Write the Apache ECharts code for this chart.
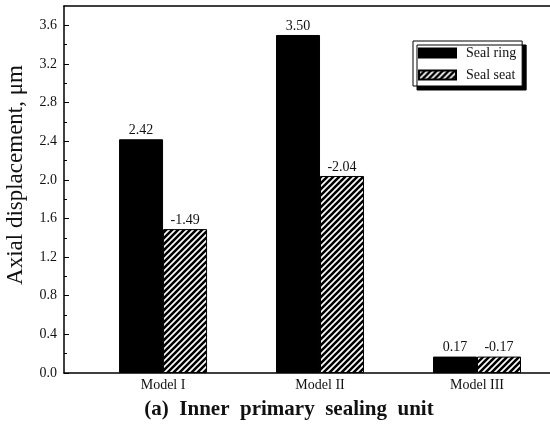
<!DOCTYPE html>
<html>
<head>
<meta charset="utf-8">
<script src="https://cdn.jsdelivr.net/npm/echarts@6/dist/echarts.min.js"></script>
<style>html,body{margin:0;padding:0;background:#fff}#c{width:550px;height:439px}</style>
</head>
<body>
<div id="c"></div>
<script>
var categories = ['Model I', 'Model II', 'Model III'];
var categoryPos = [1, 2, 3];
var ringValues = [2.42, 3.50, 0.17];
var seatValues = [-1.49, -2.04, -0.17];
var yTicks = [0, 0.4, 0.8, 1.2, 1.6, 2.0, 2.4, 2.8, 3.2, 3.6];
var seriesNames = ['Seal ring', 'Seal seat'];

var pc = document.createElement('canvas');
pc.width = 6; pc.height = 6;
var g = pc.getContext('2d');
g.fillStyle = '#fff'; g.fillRect(0, 0, 6, 6);
g.strokeStyle = '#000'; g.lineWidth = 2.6;
g.beginPath();
g.moveTo(-1, 7); g.lineTo(7, -1);
g.moveTo(-1, 1); g.lineTo(1, -1);
g.moveTo(5, 7); g.lineTo(7, 5);
g.stroke();
var hatch = { image: pc, repeat: 'repeat' };

var serif = '"Liberation Serif", "DejaVu Serif", serif';
var chart = echarts.init(document.getElementById('c'), null, { renderer: 'canvas' });
chart.setOption({
  animation: false,
  backgroundColor: '#fff',
  grid: { left: 64, right: 0, top: 6, bottom: 66 },
  legend: {
    orient: 'vertical', left: 413, top: 41,
    icon: 'rect',
    itemWidth: 37, itemHeight: 9, itemGap: 8,
    padding: [5, 6, 4, 5],
    backgroundColor: '#fff', borderColor: '#000', borderWidth: 1,
    shadowColor: '#000', shadowBlur: 0, shadowOffsetX: 4, shadowOffsetY: 4,
    textStyle: { fontFamily: serif, fontSize: 14, color: '#111', padding: [0, 0, 0, 5] },
    data: seriesNames
  },
  xAxis: [{
    type: 'value', min: 0.369, max: 3.465,
    splitLine: { show: false },
    axisLine: { show: true, lineStyle: { color: '#000', width: 1.5 } },
    axisTick: { show: false },
    axisLabel: {
      customValues: categoryPos, margin: 5,
      fontFamily: serif, fontSize: 14, color: '#111',
      formatter: function (v) { return categories[Math.round(v) - 1] || ''; }
    }
  }, {
    type: 'value', position: 'top', min: 0.369, max: 3.465,
    splitLine: { show: false },
    axisLine: { show: true, onZero: false, lineStyle: { color: '#000', width: 1.5 } },
    axisTick: { show: false }, axisLabel: { show: false }
  }],
  yAxis: {
    type: 'value', min: 0, max: 3.8, interval: 0.4,
    splitLine: { show: false },
    axisLine: { show: true, lineStyle: { color: '#000', width: 1.5 } },
    axisTick: { show: true, inside: true, length: 5, customValues: yTicks, lineStyle: { color: '#000' } },
    minorTick: { show: true, splitNumber: 2, length: 3, lineStyle: { color: '#000' } },
    axisLabel: {
      customValues: yTicks, margin: 7,
      fontFamily: serif, fontSize: 14, color: '#111',
      formatter: function (v) { return v.toFixed(1); }
    }
  },
  graphic: [{
    type: 'text', x: 16, y: 175, rotation: Math.PI / 2,
    style: {
      text: 'Axial displacement, μm', fontFamily: serif, fontSize: 23,
      fill: '#111', align: 'center', verticalAlign: 'middle'
    }
  }, {
    type: 'text', x: 289, y: 410,
    style: {
      text: '(a)  Inner  primary  sealing  unit', fontFamily: serif, fontSize: 21,
      fontWeight: 'bold', fill: '#111', align: 'center', verticalAlign: 'middle'
    }
  }],
  series: [{
    name: seriesNames[0], type: 'bar', barWidth: 44, barGap: '0%',
    data: categoryPos.map(function (p, i) { return [p, ringValues[i]]; }),
    itemStyle: { color: '#000', borderColor: '#000', borderWidth: 1 },
    label: {
      show: true, position: 'top', distance: 2,
      fontFamily: serif, fontSize: 14, color: '#111',
      formatter: function (p) { return ringValues[p.dataIndex].toFixed(2); }
    }
  }, {
    name: seriesNames[1], type: 'bar', barWidth: 44, barGap: '0%',
    data: categoryPos.map(function (p, i) { return [p, Math.abs(seatValues[i])]; }),
    itemStyle: { color: hatch, borderColor: '#000', borderWidth: 1 },
    label: {
      show: true, position: 'top', distance: 2,
      fontFamily: serif, fontSize: 14, color: '#111',
      formatter: function (p) { return seatValues[p.dataIndex].toFixed(2); }
    }
  }]
});
</script>
</body>
</html>
